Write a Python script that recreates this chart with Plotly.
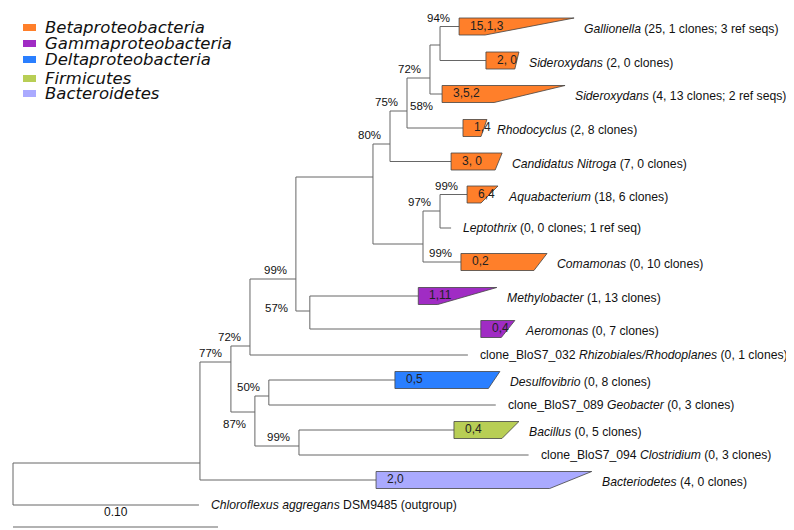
import plotly.graph_objects as go

# ---------------- data ----------------
SCALE_BAR = 0.10  # substitutions per site

group_names = ["Betaproteobacteria", "Gammaproteobacteria", "Deltaproteobacteria", "Firmicutes", "Bacteroidetes"]
group_colors = ["#FF7F2A", "#A02CC4", "#2A7FFF", "#B8CE55", "#AAAAFF"]

# internal nodes: parent and branch length (substitutions/site), vertical row position
node_parent = {"B": "root", "C": "B", "D": "C", "E": "C", "F": "D", "G": "F", "J": "F",
               "M": "J", "K": "J", "N": "M", "O": "N", "P": "O", "L": "K", "H": "E", "I": "E"}
node_branch = {"B": 0.0912, "C": 0.0151, "D": 0.0093, "E": 0.0117, "F": 0.0224, "G": 0.0068,
               "J": 0.0376, "M": 0.0083, "K": 0.0244, "N": 0.0083, "O": 0.0112, "P": 0.0049,
               "L": 0.0083, "H": 0.0068, "I": 0.0215}
node_row = {"root": 476, "B": 455, "C": 354, "D": 338, "E": 404, "F": 271, "G": 303, "J": 169,
            "M": 136, "K": 236, "N": 103, "O": 70, "P": 37, "L": 203, "H": 388, "I": 438}

leaf_names = ["Gallionella", "Sideroxydans_a", "Sideroxydans_b", "Rhodocyclus", "Candidatus",
              "Aquabacterium", "Leptothrix", "Comamonas", "Methylobacter", "Aeromonas", "clone032",
              "Desulfovibrio", "Geobacter", "Bacillus", "Clostridium", "Bacteroidetes", "Chloroflexus"]
leaf_labels = [
    "<i>Gallionella</i> (25, 1 clones; 3 ref seqs)",
    "<i>Sideroxydans</i> (2, 0 clones)",
    "<i>Sideroxydans</i> (4, 13 clones; 2 ref seqs)",
    "<i>Rhodocyclus</i> (2, 8 clones)",
    "<i>Candidatus Nitroga</i> (7, 0 clones)",
    "<i>Aquabacterium</i> (18, 6 clones)",
    "<i>Leptothrix</i> (0, 0 clones; 1 ref seq)",
    "<i>Comamonas</i> (0, 10 clones)",
    "<i>Methylobacter</i> (1, 13 clones)",
    "<i>Aeromonas</i> (0, 7 clones)",
    "clone_BloS7_032 <i>Rhizobiales/Rhodoplanes</i> (0, 1 clones)",
    "<i>Desulfovibrio</i> (0, 8 clones)",
    "clone_BloS7_089 <i>Geobacter</i> (0, 3 clones)",
    "<i>Bacillus</i> (0, 5 clones)",
    "clone_BloS7_094 <i>Clostridium</i> (0, 3 clones)",
    "<i>Bacteriodetes</i> (4, 0 clones)",
    "<i>Chloroflexus aggregans</i> DSM9485 (outgroup)",
]
leaf_parent = ["P", "P", "O", "N", "M", "L", "L", "K", "G", "G", "D", "H", "H", "I", "I", "B", "root"]
leaf_branch = [0.0093, 0.0224, 0.0059, 0.0273, 0.0298, 0.0132, 0.0054, 0.0185, 0.0529, 0.0834,
               0.1063, 0.0615, 0.1107, 0.0756, 0.1120, 0.0859, 0.0907]
leaf_row = [18.5, 52.5, 86, 120, 153.5, 186.5, 220, 254, 288, 321, 347, 372, 397, 422, 447, 472, 497]
leaf_group = [0, 0, 0, 0, 0, 0, 0, 0, 1, 1, None, 2, 2, 3, 3, 4, None]
# collapsed clades: sequence counts, deepest and shallowest branch inside clade
clade_counts = ["15,1,3", "2, 0", "3,5,2", "1,4", "3, 0", "6,4", None, "0,2", "1,11", "0,4", None,
                "0,5", None, "0,4", None, "2,0", None]
clade_max = [0.0561, 0.0161, 0.0600, 0.0117, 0.0249, 0.0151, None, 0.0420, 0.0383, 0.0166, None,
             0.0512, None, 0.0317, None, 0.1052, None]
clade_min = [0.0127, 0.0141, 0.0254, 0.0088, 0.0215, 0.0068, None, 0.0356, 0.0095, 0.0100, None,
             0.0456, None, 0.0234, None, 0.0847, None]

# bootstrap support: (branch owner, value, placement)
support = [("Gallionella", "94%", "above"), ("O", "72%", "above"), ("Sideroxydans_b", "58%", "below"),
           ("N", "75%", "above"), ("M", "80%", "above"), ("Aquabacterium", "99%", "above"),
           ("L", "97%", "above"), ("Comamonas", "99%", "above"), ("F", "99%", "above"),
           ("G", "57%", "left"), ("D", "72%", "above"), ("C", "77%", "above"),
           ("H", "50%", "above"), ("E", "87%", "below"), ("I", "99%", "above")]

# ---------------- layout helpers ----------------
W, H = 794, 530
PX_PER_UNIT = 2050.0
X0 = -5 / PX_PER_UNIT
X1 = X0 + W / PX_PER_UNIT
BOX_HALF = 8.5
FONT = "Arial, Liberation Sans, sans-serif"
LINE_COL = "#666666"

depth = {"root": 0.0}
def node_depth(n):
    if n not in depth:
        depth[n] = node_depth(node_parent[n]) + node_branch[n]
    return depth[n]
for n in node_parent:
    node_depth(n)

leaf_start = {}
for nm, p, b in zip(leaf_names, leaf_parent, leaf_branch):
    leaf_start[nm] = depth[p] + b
leaf_row_map = dict(zip(leaf_names, leaf_row))

children = {}
for n, p in node_parent.items():
    children.setdefault(p, []).append(node_row[n])
for nm, p in zip(leaf_names, leaf_parent):
    children.setdefault(p, []).append(leaf_row_map[nm])

xs, ys = [], []
for n, p in node_parent.items():
    xs += [depth[p], depth[n], None]
    ys += [node_row[n], node_row[n], None]
for nm, p in zip(leaf_names, leaf_parent):
    xs += [depth[p], leaf_start[nm], None]
    ys += [leaf_row_map[nm], leaf_row_map[nm], None]
for n, rows in children.items():
    xs += [depth[n], depth[n], None]
    ys += [min(rows), max(rows), None]

fig = go.Figure()
fig.add_trace(go.Scatter(x=xs, y=ys, mode="lines", line=dict(color=LINE_COL, width=1),
                         hoverinfo="skip", showlegend=False))

annotations = []
for i, nm in enumerate(leaf_names):
    r = leaf_row[i]
    s = leaf_start[nm]
    if clade_counts[i] is not None:
        col = group_colors[leaf_group[i]]
        px_ = [s, s + clade_max[i], s + clade_min[i], s, s]
        py_ = [r - BOX_HALF, r - BOX_HALF, r + BOX_HALF, r + BOX_HALF, r - BOX_HALF]
        fig.add_trace(go.Scatter(x=px_, y=py_, mode="lines", fill="toself", fillcolor=col,
                                 line=dict(color="#444444", width=0.8), hoverinfo="skip",
                                 showlegend=False))
        annotations.append(dict(x=s, y=r, text=clade_counts[i], xanchor="left", yanchor="middle",
                                xshift=9, yshift=1, showarrow=False,
                                font=dict(family=FONT, size=12, color="#222222")))
        end = s + clade_max[i]
        shift = 8
        yshift = -2
    else:
        end = s
        shift = 10
        yshift = 0
    annotations.append(dict(x=end, y=r, text=leaf_labels[i], xanchor="left", yanchor="middle",
                            xshift=shift, yshift=yshift, showarrow=False,
                            font=dict(family=FONT, size=12.2, color="#111111")))

for owner, val, place in support:
    if owner in node_parent:
        sx, sy, par = depth[owner], node_row[owner], node_parent[owner]
    else:
        sx, sy, par = leaf_start[owner], leaf_row_map[owner], leaf_parent[leaf_names.index(owner)]
    if place == "above":
        a = dict(x=sx, y=sy, xshift=-7, yshift=9)
    elif place == "below":
        a = dict(x=sx, y=sy, xshift=-7, yshift=-12)
    else:
        a = dict(x=depth[par], y=sy, xshift=-6, yshift=3)
    a.update(text=val, xanchor="right", yanchor="middle", showarrow=False,
             font=dict(family=FONT, size=11.5, color="#111111"))
    annotations.append(a)

# scale bar
fig.add_trace(go.Scatter(x=[0, SCALE_BAR], y=[519, 519], mode="lines",
                         line=dict(color=LINE_COL, width=1.2), hoverinfo="skip", showlegend=False))
annotations.append(dict(x=SCALE_BAR / 2, y=504, text="%.2f" % SCALE_BAR, showarrow=False,
                        xanchor="center", yanchor="middle",
                        font=dict(family=FONT, size=12, color="#111111")))

# legend (paper coordinates)
shapes = []
legend_rows = [19.5, 35.5, 51.5, 70.5, 85.5]
for name, col, ry in zip(group_names, group_colors, legend_rows):
    shapes.append(dict(type="rect", xref="paper", yref="paper",
                       x0=15 / W, x1=28 / W, y0=1 - (ry - 3.5) / H, y1=1 - (ry + 3.5) / H,
                       fillcolor=col, line=dict(width=0)))
    annotations.append(dict(xref="paper", yref="paper", x=35 / W, y=1 - (ry + 0.5) / H,
                            text="<i>%s</i>" % name, xanchor="left", yanchor="middle",
                            showarrow=False,
                            font=dict(family="DejaVu Sans, sans-serif", size=16.5, color="#111111")))

fig.update_layout(
    width=W, height=H, margin=dict(l=0, r=0, t=0, b=0),
    paper_bgcolor="white", plot_bgcolor="white",
    xaxis=dict(range=[X0, X1], visible=False, fixedrange=True),
    yaxis=dict(range=[H, 0], visible=False, fixedrange=True),
    annotations=annotations, shapes=shapes, showlegend=False,
)
fig.write_html("out.html")
